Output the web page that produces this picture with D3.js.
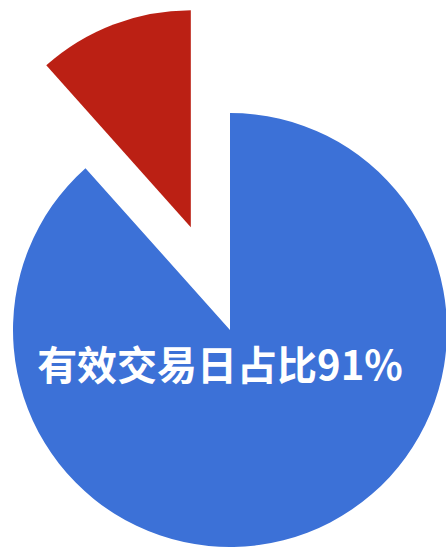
<!DOCTYPE html>
<html><head><meta charset="utf-8">
<script src="https://cdn.jsdelivr.net/npm/d3@7"></script>
<style>html,body{margin:0;padding:0;background:#fff;overflow:hidden}</style>
</head><body>
<svg id="chart" width="446" height="549"></svg>
<script>
const categories = ["有效交易日", "其他"];
const values = [88.4, 11.6];
const colors = ["#3c71d7", "#bb2014"];
const labelText = "有效交易日占比91%";
const explode = [0, 110];

const svg = d3.select("#chart");
const cx = 230, cy = 330, r = 217;
const g = svg.append("g").attr("transform", `translate(${cx},${cy})`);
const pie = d3.pie().sort(null).value(d => d);
const arcs = pie(values);
const arc = d3.arc().innerRadius(0).outerRadius(r);
g.selectAll("path").data(arcs).enter().append("path")
  .attr("d", arc)
  .attr("fill", (d, i) => colors[i])
  .attr("transform", (d, i) => {
    const a = (d.startAngle + d.endAngle) / 2;
    return `translate(${Math.sin(a) * explode[i]},${-Math.cos(a) * explode[i]})`;
  });
svg.append("text")
  .attr("x", 220).attr("y", 380)
  .attr("text-anchor", "middle")
  .attr("fill", "#fff")
  .attr("font-family", "'Noto Sans CJK SC', sans-serif")
  .attr("font-weight", "bold")
  .attr("font-size", 40)
  .text(labelText);
</script>
</body></html>
